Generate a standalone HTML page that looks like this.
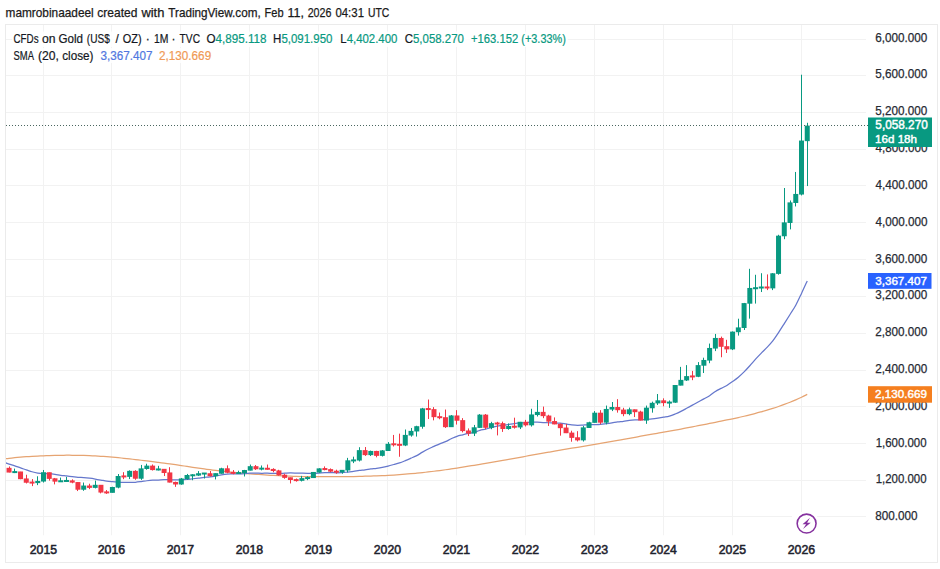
<!DOCTYPE html>
<html><head><meta charset="utf-8"><style>
html,body{margin:0;padding:0;background:#fff;width:940px;height:569px;overflow:hidden;position:relative}
svg{position:absolute;left:0;top:0;font-family:"Liberation Sans",sans-serif}
</style></head><body>
<svg width="940" height="569" viewBox="0 0 940 569">
<rect x="5.5" y="24.5" width="932" height="538" fill="none" stroke="#ebebeb" stroke-width="1"/>
<defs><clipPath id="cp"><rect x="6" y="25" width="860" height="510.5"/></clipPath></defs>
<g clip-path="url(#cp)">
<line x1="6" y1="39.5" x2="866" y2="39.5" stroke="#f2f2f2" stroke-width="1"/>
<line x1="6" y1="75.5" x2="866" y2="75.5" stroke="#f2f2f2" stroke-width="1"/>
<line x1="6" y1="112.5" x2="866" y2="112.5" stroke="#f2f2f2" stroke-width="1"/>
<line x1="6" y1="149.5" x2="866" y2="149.5" stroke="#f2f2f2" stroke-width="1"/>
<line x1="6" y1="185.5" x2="866" y2="185.5" stroke="#f2f2f2" stroke-width="1"/>
<line x1="6" y1="222.5" x2="866" y2="222.5" stroke="#f2f2f2" stroke-width="1"/>
<line x1="6" y1="259.5" x2="866" y2="259.5" stroke="#f2f2f2" stroke-width="1"/>
<line x1="6" y1="296.5" x2="866" y2="296.5" stroke="#f2f2f2" stroke-width="1"/>
<line x1="6" y1="333.5" x2="866" y2="333.5" stroke="#f2f2f2" stroke-width="1"/>
<line x1="6" y1="370.5" x2="866" y2="370.5" stroke="#f2f2f2" stroke-width="1"/>
<line x1="6" y1="406.5" x2="866" y2="406.5" stroke="#f2f2f2" stroke-width="1"/>
<line x1="6" y1="443.5" x2="866" y2="443.5" stroke="#f2f2f2" stroke-width="1"/>
<line x1="6" y1="480.5" x2="866" y2="480.5" stroke="#f2f2f2" stroke-width="1"/>
<line x1="6" y1="516.5" x2="866" y2="516.5" stroke="#f2f2f2" stroke-width="1"/>
<line x1="43.5" y1="24" x2="43.5" y2="535.5" stroke="#f2f2f2" stroke-width="1"/>
<line x1="111.5" y1="24" x2="111.5" y2="535.5" stroke="#f2f2f2" stroke-width="1"/>
<line x1="180.5" y1="24" x2="180.5" y2="535.5" stroke="#f2f2f2" stroke-width="1"/>
<line x1="249.5" y1="24" x2="249.5" y2="535.5" stroke="#f2f2f2" stroke-width="1"/>
<line x1="318.5" y1="24" x2="318.5" y2="535.5" stroke="#f2f2f2" stroke-width="1"/>
<line x1="387.5" y1="24" x2="387.5" y2="535.5" stroke="#f2f2f2" stroke-width="1"/>
<line x1="456.5" y1="24" x2="456.5" y2="535.5" stroke="#f2f2f2" stroke-width="1"/>
<line x1="525.5" y1="24" x2="525.5" y2="535.5" stroke="#f2f2f2" stroke-width="1"/>
<line x1="594.5" y1="24" x2="594.5" y2="535.5" stroke="#f2f2f2" stroke-width="1"/>
<line x1="663.5" y1="24" x2="663.5" y2="535.5" stroke="#f2f2f2" stroke-width="1"/>
<line x1="732.5" y1="24" x2="732.5" y2="535.5" stroke="#f2f2f2" stroke-width="1"/>
<line x1="801.5" y1="24" x2="801.5" y2="535.5" stroke="#f2f2f2" stroke-width="1"/>
<path d="M3.30 459.02 C4.26 458.90 7.14 458.54 9.05 458.33 C10.96 458.12 12.88 457.92 14.79 457.73 C16.70 457.54 18.62 457.37 20.53 457.20 C22.44 457.03 24.36 456.88 26.27 456.74 C28.18 456.60 30.11 456.48 32.02 456.36 C33.94 456.24 35.85 456.14 37.76 456.04 C39.67 455.94 41.59 455.86 43.50 455.78 C45.41 455.70 47.33 455.62 49.24 455.56 C51.15 455.50 53.06 455.44 54.98 455.39 C56.89 455.34 58.81 455.31 60.73 455.29 C62.64 455.27 64.56 455.25 66.47 455.24 C68.38 455.24 70.30 455.24 72.21 455.26 C74.12 455.28 76.03 455.30 77.95 455.34 C79.87 455.38 81.78 455.43 83.70 455.48 C85.62 455.53 87.53 455.59 89.44 455.66 C91.35 455.74 93.27 455.83 95.18 455.93 C97.09 456.03 99.00 456.14 100.92 456.27 C102.84 456.39 104.75 456.53 106.67 456.68 C108.59 456.83 110.50 457.00 112.41 457.17 C114.32 457.34 116.24 457.51 118.15 457.69 C120.06 457.87 121.98 458.07 123.89 458.27 C125.80 458.47 127.72 458.68 129.64 458.90 C131.55 459.12 133.47 459.33 135.38 459.56 C137.29 459.79 139.21 460.02 141.12 460.25 C143.03 460.48 144.95 460.71 146.86 460.95 C148.78 461.19 150.70 461.42 152.61 461.66 C154.53 461.90 156.44 462.14 158.35 462.39 C160.26 462.63 162.18 462.88 164.09 463.13 C166.00 463.38 167.92 463.65 169.83 463.92 C171.75 464.19 173.67 464.46 175.58 464.74 C177.50 465.02 179.41 465.30 181.32 465.58 C183.23 465.86 185.15 466.14 187.06 466.42 C188.97 466.70 190.89 466.98 192.80 467.26 C194.72 467.54 196.64 467.82 198.55 468.10 C200.47 468.38 202.38 468.65 204.29 468.92 C206.20 469.19 208.12 469.45 210.03 469.70 C211.94 469.95 213.86 470.20 215.77 470.44 C217.69 470.68 219.61 470.89 221.52 471.11 C223.44 471.33 225.35 471.53 227.26 471.73 C229.17 471.93 231.09 472.14 233.00 472.33 C234.91 472.52 236.83 472.70 238.74 472.88 C240.65 473.06 242.56 473.23 244.48 473.40 C246.39 473.56 248.31 473.72 250.23 473.87 C252.14 474.02 254.06 474.16 255.97 474.30 C257.88 474.44 259.80 474.57 261.71 474.70 C263.62 474.83 265.53 474.96 267.45 475.08 C269.37 475.20 271.28 475.31 273.20 475.42 C275.12 475.53 277.03 475.63 278.94 475.73 C280.85 475.83 282.77 475.91 284.68 475.99 C286.59 476.07 288.50 476.14 290.42 476.21 C292.34 476.28 294.25 476.33 296.17 476.39 C298.09 476.44 300.00 476.50 301.91 476.54 C303.82 476.58 305.74 476.62 307.65 476.65 C309.56 476.68 311.47 476.71 313.39 476.72 C315.31 476.74 317.22 476.74 319.14 476.74 C321.06 476.74 322.97 476.74 324.88 476.73 C326.79 476.73 328.71 476.72 330.62 476.71 C332.53 476.70 334.44 476.70 336.36 476.69 C338.28 476.68 340.19 476.68 342.11 476.66 C344.03 476.65 345.94 476.62 347.85 476.60 C349.76 476.58 351.68 476.55 353.59 476.51 C355.50 476.47 357.41 476.43 359.33 476.38 C361.25 476.33 363.16 476.28 365.08 476.23 C367.00 476.18 368.91 476.12 370.82 476.06 C372.73 476.00 374.65 475.93 376.56 475.86 C378.47 475.79 380.38 475.71 382.30 475.63 C384.22 475.55 386.13 475.45 388.05 475.35 C389.97 475.25 391.88 475.13 393.79 475.01 C395.70 474.89 397.62 474.77 399.53 474.64 C401.44 474.51 403.35 474.36 405.27 474.21 C407.19 474.06 409.10 473.89 411.02 473.72 C412.94 473.55 414.85 473.38 416.76 473.19 C418.67 473.00 420.59 472.80 422.50 472.59 C424.41 472.38 426.33 472.15 428.24 471.93 C430.15 471.71 432.06 471.49 433.98 471.25 C435.90 471.01 437.81 470.77 439.73 470.52 C441.65 470.27 443.56 470.01 445.47 469.75 C447.38 469.49 449.30 469.21 451.21 468.93 C453.12 468.65 455.03 468.36 456.95 468.06 C458.87 467.76 460.78 467.47 462.70 467.16 C464.62 466.86 466.53 466.54 468.44 466.23 C470.35 465.92 472.27 465.61 474.18 465.29 C476.09 464.97 478.00 464.64 479.92 464.32 C481.84 464.00 483.75 463.67 485.67 463.34 C487.59 463.01 489.50 462.67 491.41 462.34 C493.32 462.00 495.24 461.67 497.15 461.33 C499.06 460.99 500.97 460.65 502.89 460.31 C504.81 459.97 506.72 459.64 508.64 459.31 C510.56 458.98 512.47 458.64 514.38 458.30 C516.29 457.96 518.21 457.62 520.12 457.28 C522.03 456.94 523.95 456.59 525.86 456.25 C527.77 455.91 529.70 455.56 531.61 455.22 C533.52 454.88 535.44 454.54 537.35 454.20 C539.26 453.86 541.18 453.53 543.09 453.19 C545.00 452.85 546.92 452.51 548.83 452.18 C550.75 451.85 552.67 451.51 554.58 451.18 C556.50 450.85 558.41 450.50 560.32 450.17 C562.23 449.84 564.15 449.50 566.06 449.18 C567.97 448.86 569.88 448.54 571.80 448.22 C573.71 447.90 575.63 447.58 577.55 447.26 C579.46 446.94 581.38 446.62 583.29 446.30 C585.20 445.98 587.12 445.65 589.03 445.33 C590.94 445.01 592.86 444.68 594.77 444.36 C596.68 444.04 598.61 443.72 600.52 443.39 C602.43 443.06 604.35 442.73 606.26 442.40 C608.17 442.07 610.09 441.73 612.00 441.40 C613.91 441.06 615.83 440.73 617.74 440.39 C619.65 440.05 621.57 439.71 623.48 439.36 C625.39 439.01 627.32 438.67 629.23 438.32 C631.14 437.97 633.06 437.63 634.97 437.28 C636.88 436.93 638.80 436.58 640.71 436.24 C642.62 435.90 644.54 435.56 646.45 435.22 C648.37 434.88 650.29 434.54 652.20 434.20 C654.12 433.86 656.03 433.53 657.94 433.19 C659.85 432.85 661.77 432.51 663.68 432.17 C665.59 431.83 667.50 431.49 669.42 431.14 C671.33 430.79 673.25 430.45 675.17 430.10 C677.08 429.75 679.00 429.40 680.91 429.04 C682.82 428.68 684.74 428.32 686.65 427.95 C688.56 427.58 690.48 427.21 692.39 426.84 C694.30 426.47 696.23 426.10 698.14 425.72 C700.05 425.34 701.97 424.96 703.88 424.58 C705.79 424.20 707.71 423.83 709.62 423.45 C711.53 423.07 713.45 422.69 715.36 422.30 C717.27 421.92 719.20 421.53 721.11 421.14 C723.02 420.75 724.94 420.37 726.85 419.97 C728.76 419.58 730.68 419.17 732.59 418.77 C734.50 418.37 736.42 417.96 738.33 417.54 C740.25 417.12 742.17 416.69 744.08 416.25 C746.00 415.81 747.91 415.35 749.82 414.87 C751.73 414.39 753.65 413.90 755.56 413.39 C757.47 412.88 759.38 412.34 761.30 411.80 C763.21 411.26 765.13 410.71 767.05 410.14 C768.96 409.57 770.88 408.99 772.79 408.38 C774.70 407.77 776.62 407.14 778.53 406.48 C780.44 405.82 782.36 405.14 784.27 404.43 C786.18 403.72 788.11 402.98 790.02 402.21 C791.93 401.44 793.85 400.66 795.76 399.83 C797.67 399.00 799.59 398.13 801.50 397.22 C803.41 396.31 806.28 394.85 807.24 394.38" fill="none" stroke="#e6a472" stroke-width="1.25" stroke-linejoin="round" stroke-linecap="butt"/>
<path d="M3.30 462.06 C4.26 462.39 7.14 463.41 9.05 464.04 C10.96 464.67 12.88 465.18 14.79 465.83 C16.70 466.48 18.62 467.26 20.53 467.92 C22.44 468.58 24.36 469.15 26.27 469.79 C28.18 470.43 30.11 471.21 32.02 471.76 C33.94 472.31 35.85 472.77 37.76 473.08 C39.67 473.39 41.59 473.50 43.50 473.60 C45.41 473.70 47.33 473.58 49.24 473.70 C51.15 473.81 53.06 474.03 54.98 474.29 C56.89 474.55 58.81 475.00 60.73 475.27 C62.64 475.54 64.56 475.68 66.47 475.90 C68.38 476.12 70.30 476.36 72.21 476.59 C74.12 476.82 76.03 477.13 77.95 477.30 C79.87 477.47 81.78 477.47 83.70 477.62 C85.62 477.77 87.53 477.97 89.44 478.21 C91.35 478.45 93.27 478.74 95.18 479.05 C97.09 479.36 99.00 479.71 100.92 480.06 C102.84 480.41 104.75 480.86 106.67 481.14 C108.59 481.42 110.50 481.57 112.41 481.74 C114.32 481.91 116.24 482.03 118.15 482.13 C120.06 482.23 121.98 482.31 123.89 482.34 C125.80 482.37 127.72 482.32 129.64 482.31 C131.55 482.30 133.47 482.40 135.38 482.28 C137.29 482.16 139.21 481.86 141.12 481.60 C143.03 481.35 144.95 480.99 146.86 480.75 C148.78 480.51 150.70 480.30 152.61 480.18 C154.53 480.06 156.44 480.09 158.35 480.01 C160.26 479.93 162.18 479.76 164.09 479.72 C166.00 479.68 167.92 479.73 169.83 479.76 C171.75 479.79 173.67 479.90 175.58 479.91 C177.50 479.92 179.41 479.88 181.32 479.81 C183.23 479.74 185.15 479.64 187.06 479.46 C188.97 479.28 190.89 478.97 192.80 478.75 C194.72 478.53 196.64 478.36 198.55 478.14 C200.47 477.92 202.38 477.63 204.29 477.44 C206.20 477.25 208.12 477.21 210.03 476.98 C211.94 476.75 213.86 476.40 215.77 476.04 C217.69 475.68 219.61 475.16 221.52 474.84 C223.44 474.52 225.35 474.25 227.26 474.10 C229.17 473.95 231.09 474.01 233.00 473.95 C234.91 473.89 236.83 473.80 238.74 473.76 C240.65 473.72 242.56 473.83 244.48 473.72 C246.39 473.62 248.31 473.23 250.23 473.13 C252.14 473.03 254.06 473.12 255.97 473.14 C257.88 473.16 259.80 473.25 261.71 473.26 C263.62 473.27 265.53 473.22 267.45 473.23 C269.37 473.24 271.28 473.28 273.20 473.31 C275.12 473.34 277.03 473.44 278.94 473.42 C280.85 473.40 282.77 473.27 284.68 473.19 C286.59 473.11 288.50 472.98 290.42 472.96 C292.34 472.94 294.25 473.01 296.17 473.05 C298.09 473.09 300.00 473.16 301.91 473.21 C303.82 473.26 305.74 473.32 307.65 473.33 C309.56 473.34 311.47 473.32 313.39 473.27 C315.31 473.22 317.22 473.12 319.14 473.02 C321.06 472.92 322.97 472.77 324.88 472.70 C326.79 472.63 328.71 472.58 330.62 472.59 C332.53 472.60 334.44 472.76 336.36 472.77 C338.28 472.78 340.19 472.77 342.11 472.65 C344.03 472.52 345.94 472.23 347.85 472.02 C349.76 471.81 351.68 471.66 353.59 471.39 C355.50 471.12 357.41 470.65 359.33 470.39 C361.25 470.13 363.16 470.06 365.08 469.81 C367.00 469.56 368.91 469.17 370.82 468.92 C372.73 468.67 374.65 468.55 376.56 468.29 C378.47 468.03 380.38 467.74 382.30 467.36 C384.22 466.98 386.13 466.51 388.05 466.03 C389.97 465.55 391.88 465.02 393.79 464.50 C395.70 463.98 397.62 463.52 399.53 462.88 C401.44 462.24 403.35 461.44 405.27 460.66 C407.19 459.88 409.10 459.03 411.02 458.19 C412.94 457.35 414.85 456.61 416.76 455.60 C418.67 454.59 420.59 453.24 422.50 452.14 C424.41 451.04 426.33 449.95 428.24 449.00 C430.15 448.05 432.06 447.28 433.98 446.41 C435.90 445.55 437.81 444.61 439.73 443.81 C441.65 443.01 443.56 442.43 445.47 441.59 C447.38 440.75 449.30 439.65 451.21 438.77 C453.12 437.89 455.03 436.95 456.95 436.29 C458.87 435.63 460.78 435.27 462.70 434.80 C464.62 434.33 466.53 433.87 468.44 433.45 C470.35 433.03 472.27 432.83 474.18 432.31 C476.09 431.79 478.00 430.84 479.92 430.31 C481.84 429.78 483.75 429.59 485.67 429.12 C487.59 428.65 489.50 428.01 491.41 427.52 C493.32 427.03 495.24 426.52 497.15 426.16 C499.06 425.81 500.97 425.67 502.89 425.39 C504.81 425.11 506.72 424.78 508.64 424.48 C510.56 424.18 512.47 423.84 514.38 423.58 C516.29 423.32 518.21 423.08 520.12 422.92 C522.03 422.76 523.95 422.77 525.86 422.62 C527.77 422.47 529.70 422.10 531.61 422.03 C533.52 421.96 535.44 422.12 537.35 422.20 C539.26 422.28 541.18 422.44 543.09 422.53 C545.00 422.62 546.92 422.66 548.83 422.75 C550.75 422.84 552.67 423.02 554.58 423.08 C556.50 423.14 558.41 422.98 560.32 423.13 C562.23 423.28 564.15 423.70 566.06 423.99 C567.97 424.28 569.88 424.63 571.80 424.85 C573.71 425.07 575.63 425.28 577.55 425.31 C579.46 425.34 581.38 425.12 583.29 425.03 C585.20 424.94 587.12 424.84 589.03 424.78 C590.94 424.72 592.86 424.74 594.77 424.68 C596.68 424.62 598.61 424.58 600.52 424.42 C602.43 424.26 604.35 423.96 606.26 423.71 C608.17 423.46 610.09 423.19 612.00 422.90 C613.91 422.61 615.83 422.22 617.74 421.96 C619.65 421.70 621.57 421.59 623.48 421.34 C625.39 421.09 627.32 420.69 629.23 420.46 C631.14 420.23 633.06 420.07 634.97 419.95 C636.88 419.82 638.80 419.81 640.71 419.71 C642.62 419.61 644.54 419.50 646.45 419.37 C648.37 419.24 650.29 419.12 652.20 418.92 C654.12 418.72 656.03 418.44 657.94 418.16 C659.85 417.88 661.77 417.57 663.68 417.23 C665.59 416.89 667.50 416.69 669.42 416.15 C671.33 415.61 673.25 414.81 675.17 414.02 C677.08 413.22 679.00 412.33 680.91 411.38 C682.82 410.43 684.74 409.36 686.65 408.32 C688.56 407.28 690.48 406.19 692.39 405.14 C694.30 404.09 696.23 403.07 698.14 402.03 C700.05 400.99 701.97 399.98 703.88 398.92 C705.79 397.86 707.71 396.92 709.62 395.68 C711.53 394.44 713.45 392.70 715.36 391.47 C717.27 390.25 719.20 389.34 721.11 388.33 C723.02 387.32 724.94 386.56 726.85 385.42 C728.76 384.29 730.68 382.89 732.59 381.52 C734.50 380.15 736.42 378.82 738.33 377.22 C740.25 375.62 742.17 373.83 744.08 371.91 C746.00 369.99 747.91 367.85 749.82 365.72 C751.73 363.59 753.65 361.23 755.56 359.12 C757.47 357.01 759.38 355.04 761.30 353.07 C763.21 351.10 765.13 349.34 767.05 347.32 C768.96 345.30 770.88 343.41 772.79 340.96 C774.70 338.51 776.62 335.51 778.53 332.62 C780.44 329.73 782.36 326.66 784.27 323.64 C786.18 320.62 788.11 317.58 790.02 314.51 C791.93 311.44 793.85 308.72 795.76 305.21 C797.67 301.70 799.59 297.48 801.50 293.43 C803.41 289.38 806.28 282.99 807.24 280.90" fill="none" stroke="#6577cc" stroke-width="1.25" stroke-linejoin="round" stroke-linecap="butt"/>
<rect x="9.00" y="466.48" width="1" height="5.87" fill="#f23645"/>
<rect x="6.55" y="467.83" width="5.0" height="4.73" fill="#f23645"/>
<rect x="14.00" y="468.59" width="1" height="4.49" fill="#089981"/>
<rect x="12.29" y="471.08" width="5.0" height="2.00" fill="#089981"/>
<rect x="20.00" y="471.80" width="1" height="7.43" fill="#f23645"/>
<rect x="18.03" y="471.50" width="5.0" height="7.66" fill="#f23645"/>
<rect x="26.00" y="474.74" width="1" height="8.71" fill="#f23645"/>
<rect x="23.77" y="478.47" width="5.0" height="4.27" fill="#f23645"/>
<rect x="32.00" y="479.05" width="1" height="7.06" fill="#f23645"/>
<rect x="29.52" y="481.58" width="5.0" height="2.00" fill="#f23645"/>
<rect x="37.00" y="476.29" width="1" height="8.81" fill="#089981"/>
<rect x="35.26" y="480.95" width="5.0" height="2.16" fill="#089981"/>
<rect x="43.00" y="469.97" width="1" height="12.57" fill="#089981"/>
<rect x="41.00" y="472.23" width="5.0" height="9.31" fill="#089981"/>
<rect x="49.00" y="472.53" width="1" height="8.07" fill="#f23645"/>
<rect x="46.74" y="472.23" width="5.0" height="6.65" fill="#f23645"/>
<rect x="54.00" y="477.95" width="1" height="6.42" fill="#f23645"/>
<rect x="52.48" y="478.29" width="5.0" height="3.35" fill="#f23645"/>
<rect x="60.00" y="477.58" width="1" height="4.22" fill="#089981"/>
<rect x="58.23" y="480.29" width="5.0" height="2.00" fill="#089981"/>
<rect x="66.00" y="476.84" width="1" height="4.77" fill="#089981"/>
<rect x="63.97" y="479.97" width="5.0" height="2.00" fill="#089981"/>
<rect x="72.00" y="479.32" width="1" height="3.94" fill="#f23645"/>
<rect x="69.71" y="480.40" width="5.0" height="2.25" fill="#f23645"/>
<rect x="77.00" y="482.16" width="1" height="8.90" fill="#f23645"/>
<rect x="75.45" y="482.05" width="5.0" height="7.66" fill="#f23645"/>
<rect x="83.00" y="482.53" width="1" height="8.26" fill="#089981"/>
<rect x="81.20" y="485.53" width="5.0" height="4.18" fill="#089981"/>
<rect x="89.00" y="483.72" width="1" height="5.41" fill="#f23645"/>
<rect x="86.94" y="485.53" width="5.0" height="2.34" fill="#f23645"/>
<rect x="95.00" y="480.61" width="1" height="7.80" fill="#089981"/>
<rect x="92.68" y="484.80" width="5.0" height="3.08" fill="#089981"/>
<rect x="100.00" y="485.10" width="1" height="8.26" fill="#f23645"/>
<rect x="98.42" y="484.80" width="5.0" height="7.75" fill="#f23645"/>
<rect x="106.00" y="490.05" width="1" height="3.85" fill="#f23645"/>
<rect x="104.17" y="491.39" width="5.0" height="2.00" fill="#f23645"/>
<rect x="112.00" y="486.75" width="1" height="5.78" fill="#089981"/>
<rect x="109.91" y="487.00" width="5.0" height="5.83" fill="#089981"/>
<rect x="118.00" y="474.00" width="1" height="14.31" fill="#089981"/>
<rect x="115.65" y="475.99" width="5.0" height="11.61" fill="#089981"/>
<rect x="123.00" y="472.17" width="1" height="6.97" fill="#f23645"/>
<rect x="121.39" y="475.43" width="5.0" height="2.00" fill="#f23645"/>
<rect x="129.00" y="470.33" width="1" height="8.71" fill="#089981"/>
<rect x="127.14" y="470.86" width="5.0" height="6.01" fill="#089981"/>
<rect x="135.00" y="470.24" width="1" height="9.54" fill="#f23645"/>
<rect x="132.88" y="470.86" width="5.0" height="7.85" fill="#f23645"/>
<rect x="141.00" y="464.92" width="1" height="14.95" fill="#089981"/>
<rect x="138.62" y="468.38" width="5.0" height="10.32" fill="#089981"/>
<rect x="146.00" y="463.73" width="1" height="5.96" fill="#089981"/>
<rect x="144.36" y="465.63" width="5.0" height="3.35" fill="#089981"/>
<rect x="152.00" y="464.46" width="1" height="6.05" fill="#f23645"/>
<rect x="150.11" y="465.63" width="5.0" height="4.45" fill="#f23645"/>
<rect x="158.00" y="465.84" width="1" height="4.59" fill="#089981"/>
<rect x="155.85" y="468.46" width="5.0" height="2.00" fill="#089981"/>
<rect x="164.00" y="469.05" width="1" height="6.97" fill="#f23645"/>
<rect x="161.59" y="468.84" width="5.0" height="4.18" fill="#f23645"/>
<rect x="169.00" y="467.21" width="1" height="15.23" fill="#f23645"/>
<rect x="167.33" y="472.42" width="5.0" height="10.14" fill="#f23645"/>
<rect x="175.00" y="481.61" width="1" height="5.23" fill="#f23645"/>
<rect x="173.08" y="481.96" width="5.0" height="2.53" fill="#f23645"/>
<rect x="181.00" y="477.95" width="1" height="6.79" fill="#089981"/>
<rect x="178.82" y="478.47" width="5.0" height="6.01" fill="#089981"/>
<rect x="187.00" y="473.91" width="1" height="5.87" fill="#089981"/>
<rect x="184.56" y="474.99" width="5.0" height="4.09" fill="#089981"/>
<rect x="192.00" y="474.18" width="1" height="6.05" fill="#089981"/>
<rect x="190.30" y="474.29" width="5.0" height="2.00" fill="#089981"/>
<rect x="198.00" y="471.07" width="1" height="4.95" fill="#089981"/>
<rect x="196.05" y="473.24" width="5.0" height="2.34" fill="#089981"/>
<rect x="204.00" y="473.36" width="1" height="5.14" fill="#089981"/>
<rect x="201.79" y="472.54" width="5.0" height="2.00" fill="#089981"/>
<rect x="210.00" y="470.97" width="1" height="5.50" fill="#f23645"/>
<rect x="207.53" y="473.24" width="5.0" height="2.98" fill="#f23645"/>
<rect x="215.00" y="473.36" width="1" height="6.05" fill="#089981"/>
<rect x="213.27" y="473.15" width="5.0" height="3.08" fill="#089981"/>
<rect x="221.00" y="467.76" width="1" height="5.96" fill="#089981"/>
<rect x="219.02" y="468.29" width="5.0" height="5.46" fill="#089981"/>
<rect x="227.00" y="465.38" width="1" height="7.89" fill="#f23645"/>
<rect x="224.76" y="468.29" width="5.0" height="4.45" fill="#f23645"/>
<rect x="233.00" y="470.06" width="1" height="4.22" fill="#f23645"/>
<rect x="230.50" y="471.85" width="5.0" height="2.00" fill="#f23645"/>
<rect x="238.00" y="470.70" width="1" height="3.12" fill="#089981"/>
<rect x="236.24" y="472.08" width="5.0" height="2.00" fill="#089981"/>
<rect x="244.00" y="469.87" width="1" height="6.60" fill="#089981"/>
<rect x="241.98" y="470.03" width="5.0" height="3.17" fill="#089981"/>
<rect x="250.00" y="464.55" width="1" height="5.87" fill="#089981"/>
<rect x="247.73" y="466.18" width="5.0" height="4.45" fill="#089981"/>
<rect x="255.00" y="465.01" width="1" height="4.95" fill="#f23645"/>
<rect x="253.47" y="466.18" width="5.0" height="3.08" fill="#f23645"/>
<rect x="261.00" y="465.47" width="1" height="4.86" fill="#089981"/>
<rect x="259.21" y="467.64" width="5.0" height="2.00" fill="#089981"/>
<rect x="267.00" y="464.55" width="1" height="5.14" fill="#f23645"/>
<rect x="264.95" y="467.77" width="5.0" height="2.00" fill="#f23645"/>
<rect x="273.00" y="468.22" width="1" height="4.04" fill="#f23645"/>
<rect x="270.70" y="468.93" width="5.0" height="2.07" fill="#f23645"/>
<rect x="278.00" y="469.78" width="1" height="5.87" fill="#f23645"/>
<rect x="276.44" y="470.40" width="5.0" height="4.91" fill="#f23645"/>
<rect x="284.00" y="473.73" width="1" height="5.04" fill="#f23645"/>
<rect x="282.18" y="474.71" width="5.0" height="3.17" fill="#f23645"/>
<rect x="290.00" y="477.58" width="1" height="5.87" fill="#f23645"/>
<rect x="287.92" y="477.28" width="5.0" height="2.71" fill="#f23645"/>
<rect x="296.00" y="478.50" width="1" height="3.12" fill="#f23645"/>
<rect x="293.67" y="479.10" width="5.0" height="2.00" fill="#f23645"/>
<rect x="301.00" y="475.84" width="1" height="5.60" fill="#089981"/>
<rect x="299.41" y="478.10" width="5.0" height="2.71" fill="#089981"/>
<rect x="307.00" y="476.39" width="1" height="3.76" fill="#089981"/>
<rect x="305.15" y="477.08" width="5.0" height="2.00" fill="#089981"/>
<rect x="313.00" y="471.98" width="1" height="5.87" fill="#089981"/>
<rect x="310.89" y="471.96" width="5.0" height="6.10" fill="#089981"/>
<rect x="319.00" y="468.22" width="1" height="4.59" fill="#089981"/>
<rect x="316.64" y="468.38" width="5.0" height="4.18" fill="#089981"/>
<rect x="324.00" y="466.39" width="1" height="3.94" fill="#f23645"/>
<rect x="322.38" y="468.05" width="5.0" height="2.00" fill="#f23645"/>
<rect x="330.00" y="468.41" width="1" height="3.94" fill="#f23645"/>
<rect x="328.12" y="469.12" width="5.0" height="2.53" fill="#f23645"/>
<rect x="336.00" y="469.69" width="1" height="4.04" fill="#f23645"/>
<rect x="333.86" y="470.71" width="5.0" height="2.00" fill="#f23645"/>
<rect x="342.00" y="470.06" width="1" height="3.67" fill="#089981"/>
<rect x="339.61" y="469.85" width="5.0" height="2.53" fill="#089981"/>
<rect x="347.00" y="457.86" width="1" height="14.49" fill="#089981"/>
<rect x="345.35" y="460.31" width="5.0" height="10.14" fill="#089981"/>
<rect x="353.00" y="456.67" width="1" height="6.42" fill="#089981"/>
<rect x="351.09" y="459.43" width="5.0" height="2.00" fill="#089981"/>
<rect x="359.00" y="447.22" width="1" height="14.22" fill="#089981"/>
<rect x="356.83" y="450.13" width="5.0" height="10.41" fill="#089981"/>
<rect x="365.00" y="447.03" width="1" height="8.90" fill="#f23645"/>
<rect x="362.58" y="450.13" width="5.0" height="5.00" fill="#f23645"/>
<rect x="370.00" y="450.61" width="1" height="5.41" fill="#089981"/>
<rect x="368.32" y="450.95" width="5.0" height="4.18" fill="#089981"/>
<rect x="376.00" y="450.79" width="1" height="6.51" fill="#f23645"/>
<rect x="374.06" y="450.95" width="5.0" height="4.91" fill="#f23645"/>
<rect x="382.00" y="450.06" width="1" height="6.42" fill="#089981"/>
<rect x="379.80" y="450.40" width="5.0" height="5.46" fill="#089981"/>
<rect x="388.00" y="442.08" width="1" height="8.62" fill="#089981"/>
<rect x="385.55" y="443.80" width="5.0" height="7.20" fill="#089981"/>
<rect x="393.00" y="434.93" width="1" height="11.56" fill="#f23645"/>
<rect x="391.29" y="443.28" width="5.0" height="2.00" fill="#f23645"/>
<rect x="399.00" y="433.64" width="1" height="23.11" fill="#f23645"/>
<rect x="397.03" y="443.83" width="5.0" height="2.00" fill="#f23645"/>
<rect x="405.00" y="429.51" width="1" height="16.60" fill="#089981"/>
<rect x="402.77" y="434.90" width="5.0" height="10.60" fill="#089981"/>
<rect x="411.00" y="427.96" width="1" height="8.71" fill="#089981"/>
<rect x="408.52" y="430.87" width="5.0" height="4.64" fill="#089981"/>
<rect x="416.00" y="425.75" width="1" height="10.82" fill="#089981"/>
<rect x="414.26" y="426.19" width="5.0" height="5.28" fill="#089981"/>
<rect x="422.00" y="407.87" width="1" height="20.82" fill="#089981"/>
<rect x="420.00" y="408.39" width="5.0" height="18.39" fill="#089981"/>
<rect x="428.00" y="399.52" width="1" height="19.45" fill="#f23645"/>
<rect x="425.74" y="408.06" width="5.0" height="2.00" fill="#f23645"/>
<rect x="433.00" y="407.13" width="1" height="13.21" fill="#f23645"/>
<rect x="431.48" y="409.13" width="5.0" height="8.03" fill="#f23645"/>
<rect x="439.00" y="412.55" width="1" height="6.70" fill="#f23645"/>
<rect x="437.23" y="416.18" width="5.0" height="2.00" fill="#f23645"/>
<rect x="445.00" y="409.52" width="1" height="18.44" fill="#f23645"/>
<rect x="442.97" y="417.20" width="5.0" height="9.96" fill="#f23645"/>
<rect x="451.00" y="415.02" width="1" height="11.92" fill="#089981"/>
<rect x="448.71" y="415.46" width="5.0" height="11.70" fill="#089981"/>
<rect x="456.00" y="410.16" width="1" height="14.40" fill="#f23645"/>
<rect x="454.45" y="415.46" width="5.0" height="5.28" fill="#f23645"/>
<rect x="462.00" y="418.14" width="1" height="14.22" fill="#f23645"/>
<rect x="460.20" y="420.13" width="5.0" height="10.96" fill="#f23645"/>
<rect x="468.00" y="428.41" width="1" height="7.61" fill="#f23645"/>
<rect x="465.94" y="430.50" width="5.0" height="3.08" fill="#f23645"/>
<rect x="474.00" y="424.93" width="1" height="11.10" fill="#089981"/>
<rect x="471.68" y="427.29" width="5.0" height="6.29" fill="#089981"/>
<rect x="479.00" y="414.10" width="1" height="13.76" fill="#089981"/>
<rect x="477.42" y="414.63" width="5.0" height="13.26" fill="#089981"/>
<rect x="485.00" y="414.01" width="1" height="15.23" fill="#f23645"/>
<rect x="483.17" y="414.63" width="5.0" height="13.17" fill="#f23645"/>
<rect x="491.00" y="421.81" width="1" height="7.43" fill="#089981"/>
<rect x="488.91" y="423.16" width="5.0" height="4.64" fill="#089981"/>
<rect x="497.00" y="421.81" width="1" height="13.58" fill="#f23645"/>
<rect x="494.65" y="422.51" width="5.0" height="2.00" fill="#f23645"/>
<rect x="502.00" y="421.63" width="1" height="10.27" fill="#f23645"/>
<rect x="500.39" y="423.16" width="5.0" height="5.83" fill="#f23645"/>
<rect x="508.00" y="423.46" width="1" height="6.24" fill="#089981"/>
<rect x="506.14" y="426.00" width="5.0" height="2.98" fill="#089981"/>
<rect x="514.00" y="417.68" width="1" height="10.92" fill="#f23645"/>
<rect x="511.88" y="425.72" width="5.0" height="2.00" fill="#f23645"/>
<rect x="520.00" y="421.90" width="1" height="7.15" fill="#089981"/>
<rect x="517.62" y="421.78" width="5.0" height="5.64" fill="#089981"/>
<rect x="525.00" y="419.88" width="1" height="6.60" fill="#f23645"/>
<rect x="523.36" y="421.78" width="5.0" height="3.54" fill="#f23645"/>
<rect x="531.00" y="408.78" width="1" height="17.79" fill="#089981"/>
<rect x="529.11" y="414.45" width="5.0" height="10.87" fill="#089981"/>
<rect x="537.00" y="399.98" width="1" height="16.51" fill="#089981"/>
<rect x="534.85" y="411.88" width="5.0" height="3.17" fill="#089981"/>
<rect x="543.00" y="406.58" width="1" height="11.56" fill="#f23645"/>
<rect x="540.59" y="411.88" width="5.0" height="4.27" fill="#f23645"/>
<rect x="548.00" y="414.75" width="1" height="11.19" fill="#f23645"/>
<rect x="546.33" y="415.55" width="5.0" height="6.10" fill="#f23645"/>
<rect x="554.00" y="417.41" width="1" height="6.88" fill="#f23645"/>
<rect x="552.08" y="421.05" width="5.0" height="3.35" fill="#f23645"/>
<rect x="560.00" y="423.46" width="1" height="12.20" fill="#f23645"/>
<rect x="557.82" y="423.80" width="5.0" height="4.36" fill="#f23645"/>
<rect x="566.00" y="424.01" width="1" height="9.08" fill="#f23645"/>
<rect x="563.56" y="427.56" width="5.0" height="5.64" fill="#f23645"/>
<rect x="571.00" y="430.71" width="1" height="11.01" fill="#f23645"/>
<rect x="569.30" y="432.61" width="5.0" height="5.28" fill="#f23645"/>
<rect x="577.00" y="431.17" width="1" height="10.27" fill="#f23645"/>
<rect x="575.05" y="437.29" width="5.0" height="3.08" fill="#f23645"/>
<rect x="583.00" y="425.94" width="1" height="15.59" fill="#089981"/>
<rect x="580.79" y="427.38" width="5.0" height="12.98" fill="#089981"/>
<rect x="589.00" y="421.72" width="1" height="6.24" fill="#089981"/>
<rect x="586.53" y="422.24" width="5.0" height="5.74" fill="#089981"/>
<rect x="594.00" y="411.08" width="1" height="11.56" fill="#089981"/>
<rect x="592.27" y="412.70" width="5.0" height="10.14" fill="#089981"/>
<rect x="600.00" y="410.16" width="1" height="14.13" fill="#f23645"/>
<rect x="598.02" y="412.70" width="5.0" height="9.96" fill="#f23645"/>
<rect x="606.00" y="405.57" width="1" height="18.80" fill="#089981"/>
<rect x="603.76" y="408.94" width="5.0" height="13.72" fill="#089981"/>
<rect x="612.00" y="402.00" width="1" height="9.08" fill="#089981"/>
<rect x="609.50" y="407.02" width="5.0" height="2.53" fill="#089981"/>
<rect x="617.00" y="399.15" width="1" height="13.48" fill="#f23645"/>
<rect x="615.24" y="407.02" width="5.0" height="3.17" fill="#f23645"/>
<rect x="623.00" y="407.78" width="1" height="8.44" fill="#f23645"/>
<rect x="620.98" y="409.59" width="5.0" height="4.54" fill="#f23645"/>
<rect x="629.00" y="407.59" width="1" height="7.70" fill="#089981"/>
<rect x="626.73" y="409.31" width="5.0" height="4.82" fill="#089981"/>
<rect x="634.00" y="409.52" width="1" height="7.52" fill="#f23645"/>
<rect x="632.47" y="409.31" width="5.0" height="2.89" fill="#f23645"/>
<rect x="640.00" y="410.71" width="1" height="9.72" fill="#f23645"/>
<rect x="638.21" y="411.60" width="5.0" height="8.95" fill="#f23645"/>
<rect x="646.00" y="405.57" width="1" height="18.25" fill="#089981"/>
<rect x="643.95" y="407.66" width="5.0" height="12.89" fill="#089981"/>
<rect x="652.00" y="401.63" width="1" height="11.01" fill="#089981"/>
<rect x="649.70" y="402.80" width="5.0" height="5.46" fill="#089981"/>
<rect x="657.00" y="394.02" width="1" height="10.92" fill="#089981"/>
<rect x="655.44" y="400.32" width="5.0" height="3.08" fill="#089981"/>
<rect x="663.00" y="398.33" width="1" height="7.98" fill="#f23645"/>
<rect x="661.18" y="400.32" width="5.0" height="2.80" fill="#f23645"/>
<rect x="669.00" y="400.44" width="1" height="7.43" fill="#089981"/>
<rect x="666.92" y="401.59" width="5.0" height="2.00" fill="#089981"/>
<rect x="675.00" y="385.03" width="1" height="17.79" fill="#089981"/>
<rect x="672.67" y="385.00" width="5.0" height="17.66" fill="#089981"/>
<rect x="680.00" y="366.87" width="1" height="18.53" fill="#089981"/>
<rect x="678.41" y="379.87" width="5.0" height="5.74" fill="#089981"/>
<rect x="686.00" y="365.12" width="1" height="15.87" fill="#089981"/>
<rect x="684.15" y="376.11" width="5.0" height="4.36" fill="#089981"/>
<rect x="692.00" y="370.90" width="1" height="9.26" fill="#f23645"/>
<rect x="689.89" y="375.45" width="5.0" height="2.00" fill="#f23645"/>
<rect x="698.00" y="362.10" width="1" height="15.04" fill="#089981"/>
<rect x="695.64" y="365.10" width="5.0" height="11.70" fill="#089981"/>
<rect x="703.00" y="357.69" width="1" height="15.32" fill="#089981"/>
<rect x="701.38" y="359.96" width="5.0" height="5.74" fill="#089981"/>
<rect x="709.00" y="343.57" width="1" height="19.63" fill="#089981"/>
<rect x="707.12" y="347.95" width="5.0" height="12.62" fill="#089981"/>
<rect x="715.00" y="333.94" width="1" height="17.15" fill="#089981"/>
<rect x="712.86" y="337.95" width="5.0" height="10.60" fill="#089981"/>
<rect x="721.00" y="336.60" width="1" height="20.64" fill="#f23645"/>
<rect x="718.61" y="337.95" width="5.0" height="8.86" fill="#f23645"/>
<rect x="726.00" y="339.81" width="1" height="13.12" fill="#f23645"/>
<rect x="724.35" y="346.20" width="5.0" height="3.17" fill="#f23645"/>
<rect x="732.00" y="331.46" width="1" height="18.62" fill="#089981"/>
<rect x="730.09" y="331.62" width="5.0" height="17.75" fill="#089981"/>
<rect x="738.00" y="318.71" width="1" height="16.88" fill="#089981"/>
<rect x="735.83" y="327.40" width="5.0" height="4.82" fill="#089981"/>
<rect x="744.00" y="302.93" width="1" height="27.06" fill="#089981"/>
<rect x="741.58" y="303.09" width="5.0" height="24.91" fill="#089981"/>
<rect x="749.00" y="268.81" width="1" height="49.81" fill="#089981"/>
<rect x="747.32" y="287.96" width="5.0" height="15.73" fill="#089981"/>
<rect x="755.00" y="274.77" width="1" height="28.80" fill="#089981"/>
<rect x="753.06" y="287.21" width="5.0" height="2.00" fill="#089981"/>
<rect x="761.00" y="273.22" width="1" height="18.80" fill="#089981"/>
<rect x="758.80" y="286.52" width="5.0" height="2.00" fill="#089981"/>
<rect x="767.00" y="274.41" width="1" height="15.68" fill="#f23645"/>
<rect x="764.55" y="286.48" width="5.0" height="2.00" fill="#f23645"/>
<rect x="772.00" y="273.12" width="1" height="16.97" fill="#089981"/>
<rect x="770.29" y="273.28" width="5.0" height="15.09" fill="#089981"/>
<rect x="778.00" y="234.78" width="1" height="39.90" fill="#089981"/>
<rect x="776.03" y="235.67" width="5.0" height="38.21" fill="#089981"/>
<rect x="784.00" y="188.00" width="1" height="51.18" fill="#089981"/>
<rect x="781.77" y="222.37" width="5.0" height="13.90" fill="#089981"/>
<rect x="790.00" y="200.48" width="1" height="28.89" fill="#089981"/>
<rect x="787.52" y="202.38" width="5.0" height="20.60" fill="#089981"/>
<rect x="795.00" y="171.95" width="1" height="34.49" fill="#089981"/>
<rect x="793.26" y="193.94" width="5.0" height="9.04" fill="#089981"/>
<rect x="801.00" y="74.72" width="1" height="120.71" fill="#089981"/>
<rect x="799.00" y="140.55" width="5.0" height="53.99" fill="#089981"/>
<rect x="807.00" y="122.79" width="1" height="63.25" fill="#089981"/>
<rect x="804.74" y="125.58" width="5.0" height="15.57" fill="#089981"/>
</g>

<line x1="6" y1="125.5" x2="868" y2="125.5" stroke="#4a6660" stroke-width="1" stroke-dasharray="1 2"/>
<rect x="12" y="31.5" width="556" height="15.5" fill="#fff" fill-opacity="0.8"/>
<rect x="12" y="48" width="201" height="15" fill="#fff" fill-opacity="0.8"/>
<rect x="792" y="512" width="25" height="23.5" fill="#fff"/><circle cx="806.6" cy="523.6" r="9.45" fill="#fff" stroke="#86329f" stroke-width="1.55"/>
<path d="M810.0 517.8 L802.5 524.3 L806.1 524.3 L803.0 529.1 L810.7 522.7 L807.1 522.7 Z" fill="#86329f"/>
<text x="5.57" y="16.60" font-size="12.29" font-weight="normal" textLength="88.12" lengthAdjust="spacingAndGlyphs" ><tspan fill="#1a1a1a" stroke="#1a1a1a" stroke-width="0.25">mamrobinaadeel</tspan></text>
<text x="97.32" y="16.60" font-size="12.29" font-weight="normal" textLength="40.06" lengthAdjust="spacingAndGlyphs" ><tspan fill="#1a1a1a" stroke="#1a1a1a" stroke-width="0.25">created</tspan></text>
<text x="141.40" y="16.60" font-size="12.29" font-weight="normal" textLength="22.98" lengthAdjust="spacingAndGlyphs" ><tspan fill="#1a1a1a" stroke="#1a1a1a" stroke-width="0.25">with</tspan></text>
<text x="168.27" y="16.60" font-size="12.29" font-weight="normal" textLength="92.41" lengthAdjust="spacingAndGlyphs" ><tspan fill="#1a1a1a" stroke="#1a1a1a" stroke-width="0.25">TradingView.com,</tspan></text>
<text x="264.52" y="16.60" font-size="12.29" font-weight="normal" textLength="19.05" lengthAdjust="spacingAndGlyphs" ><tspan fill="#1a1a1a" stroke="#1a1a1a" stroke-width="0.25">Feb</tspan></text>
<text x="287.50" y="16.60" font-size="12.29" font-weight="normal" textLength="16.48" lengthAdjust="spacingAndGlyphs" ><tspan fill="#1a1a1a" stroke="#1a1a1a" stroke-width="0.25">11,</tspan></text>
<text x="307.66" y="16.60" font-size="12.29" font-weight="normal" textLength="23.81" lengthAdjust="spacingAndGlyphs" ><tspan fill="#1a1a1a" stroke="#1a1a1a" stroke-width="0.25">2026</tspan></text>
<text x="335.44" y="16.60" font-size="12.29" font-weight="normal" textLength="28.54" lengthAdjust="spacingAndGlyphs" ><tspan fill="#1a1a1a" stroke="#1a1a1a" stroke-width="0.25">04:31</tspan></text>
<text x="367.97" y="16.60" font-size="12.29" font-weight="normal" textLength="21.30" lengthAdjust="spacingAndGlyphs" ><tspan fill="#1a1a1a" stroke="#1a1a1a" stroke-width="0.25">UTC</tspan></text>
<text x="13.51" y="42.60" font-size="12.00" font-weight="normal" textLength="25.03" lengthAdjust="spacingAndGlyphs" ><tspan fill="#131722" stroke="#131722" stroke-width="0.2">CFDs</tspan></text>
<text x="41.91" y="42.60" font-size="12.00" font-weight="normal" textLength="13.54" lengthAdjust="spacingAndGlyphs" ><tspan fill="#131722" stroke="#131722" stroke-width="0.2">on</tspan></text>
<text x="58.52" y="42.60" font-size="12.00" font-weight="normal" textLength="24.50" lengthAdjust="spacingAndGlyphs" ><tspan fill="#131722" stroke="#131722" stroke-width="0.2">Gold</tspan></text>
<text x="86.79" y="42.60" font-size="12.00" font-weight="normal" textLength="22.99" lengthAdjust="spacingAndGlyphs" ><tspan fill="#131722" stroke="#131722" stroke-width="0.2">(US$</tspan></text>
<text x="115.62" y="42.60" font-size="12.00" font-weight="normal" textLength="3.33" lengthAdjust="spacingAndGlyphs" ><tspan fill="#131722" stroke="#131722" stroke-width="0.2">/</tspan></text>
<text x="122.85" y="42.60" font-size="12.00" font-weight="normal" textLength="18.82" lengthAdjust="spacingAndGlyphs" ><tspan fill="#131722" stroke="#131722" stroke-width="0.2">OZ)</tspan></text>
<text x="145.87" y="42.60" font-size="12.00" font-weight="normal" textLength="4.00" lengthAdjust="spacingAndGlyphs" ><tspan fill="#131722" stroke="#131722" stroke-width="0.2">·</tspan></text>
<text x="153.97" y="42.60" font-size="12.00" font-weight="normal" textLength="14.46" lengthAdjust="spacingAndGlyphs" ><tspan fill="#131722" stroke="#131722" stroke-width="0.2">1M</tspan></text>
<text x="171.42" y="42.60" font-size="12.00" font-weight="normal" textLength="4.00" lengthAdjust="spacingAndGlyphs" ><tspan fill="#131722" stroke="#131722" stroke-width="0.2">·</tspan></text>
<text x="179.60" y="42.60" font-size="12.00" font-weight="normal" textLength="20.41" lengthAdjust="spacingAndGlyphs" ><tspan fill="#131722" stroke="#131722" stroke-width="0.2">TVC</tspan></text>
<text x="206.42" y="42.60" font-size="12.00" font-weight="normal" textLength="60.07" lengthAdjust="spacingAndGlyphs" ><tspan fill="#131722" stroke="#131722" stroke-width="0.2">O</tspan><tspan fill="#089981" stroke="#089981" stroke-width="0.2">4,895.118</tspan></text>
<text x="273.08" y="42.60" font-size="12.00" font-weight="normal" textLength="59.38" lengthAdjust="spacingAndGlyphs" ><tspan fill="#131722" stroke="#131722" stroke-width="0.2">H</tspan><tspan fill="#089981" stroke="#089981" stroke-width="0.2">5,091.950</tspan></text>
<text x="340.29" y="42.60" font-size="12.00" font-weight="normal" textLength="57.11" lengthAdjust="spacingAndGlyphs" ><tspan fill="#131722" stroke="#131722" stroke-width="0.2">L</tspan><tspan fill="#089981" stroke="#089981" stroke-width="0.2">4,402.400</tspan></text>
<text x="404.73" y="42.60" font-size="12.00" font-weight="normal" textLength="59.13" lengthAdjust="spacingAndGlyphs" ><tspan fill="#131722" stroke="#131722" stroke-width="0.2">C</tspan><tspan fill="#089981" stroke="#089981" stroke-width="0.2">5,058.270</tspan></text>
<text x="471.04" y="42.60" font-size="12.00" font-weight="normal" textLength="47.10" lengthAdjust="spacingAndGlyphs" ><tspan fill="#089981" stroke="#089981" stroke-width="0.2">+163.152</tspan></text>
<text x="521.35" y="42.60" font-size="12.00" font-weight="normal" textLength="44.46" lengthAdjust="spacingAndGlyphs" ><tspan fill="#089981" stroke="#089981" stroke-width="0.2">(+3.33%)</tspan></text>
<text x="13.53" y="59.50" font-size="12.00" font-weight="normal" textLength="20.44" lengthAdjust="spacingAndGlyphs" ><tspan fill="#131722" stroke="#131722" stroke-width="0.2">SMA</tspan></text>
<text x="37.97" y="59.50" font-size="12.00" font-weight="normal" textLength="20.94" lengthAdjust="spacingAndGlyphs" ><tspan fill="#131722" stroke="#131722" stroke-width="0.2">(20,</tspan></text>
<text x="62.23" y="59.50" font-size="12.00" font-weight="normal" textLength="31.26" lengthAdjust="spacingAndGlyphs" ><tspan fill="#131722" stroke="#131722" stroke-width="0.2">close)</tspan></text>
<text x="100.53" y="59.50" font-size="12.00" font-weight="normal" textLength="51.93" lengthAdjust="spacingAndGlyphs" ><tspan fill="#5177e0" stroke="#5177e0" stroke-width="0.2">3,367.407</tspan></text>
<text x="159.01" y="59.50" font-size="12.00" font-weight="normal" textLength="52.15" lengthAdjust="spacingAndGlyphs" ><tspan fill="#f09a55" stroke="#f09a55" stroke-width="0.2">2,130.669</tspan></text>
<text x="875.22" y="41.65" font-size="12.57" font-weight="normal" textLength="52.03" lengthAdjust="spacingAndGlyphs" ><tspan fill="#262a33" stroke="#262a33" stroke-width="0.25">6,000.000</tspan></text>
<text x="875.33" y="78.47" font-size="12.57" font-weight="normal" textLength="52.03" lengthAdjust="spacingAndGlyphs" ><tspan fill="#262a33" stroke="#262a33" stroke-width="0.25">5,600.000</tspan></text>
<text x="875.33" y="115.29" font-size="12.57" font-weight="normal" textLength="52.03" lengthAdjust="spacingAndGlyphs" ><tspan fill="#262a33" stroke="#262a33" stroke-width="0.25">5,200.000</tspan></text>
<text x="875.57" y="152.11" font-size="12.57" font-weight="normal" textLength="52.03" lengthAdjust="spacingAndGlyphs" ><tspan fill="#262a33" stroke="#262a33" stroke-width="0.25">4,800.000</tspan></text>
<text x="875.57" y="188.93" font-size="12.57" font-weight="normal" textLength="52.03" lengthAdjust="spacingAndGlyphs" ><tspan fill="#262a33" stroke="#262a33" stroke-width="0.25">4,400.000</tspan></text>
<text x="875.57" y="225.75" font-size="12.57" font-weight="normal" textLength="52.03" lengthAdjust="spacingAndGlyphs" ><tspan fill="#262a33" stroke="#262a33" stroke-width="0.25">4,000.000</tspan></text>
<text x="875.33" y="262.57" font-size="12.57" font-weight="normal" textLength="52.03" lengthAdjust="spacingAndGlyphs" ><tspan fill="#262a33" stroke="#262a33" stroke-width="0.25">3,600.000</tspan></text>
<text x="875.33" y="299.39" font-size="12.57" font-weight="normal" textLength="52.03" lengthAdjust="spacingAndGlyphs" ><tspan fill="#262a33" stroke="#262a33" stroke-width="0.25">3,200.000</tspan></text>
<text x="875.22" y="336.21" font-size="12.57" font-weight="normal" textLength="52.03" lengthAdjust="spacingAndGlyphs" ><tspan fill="#262a33" stroke="#262a33" stroke-width="0.25">2,800.000</tspan></text>
<text x="875.22" y="373.03" font-size="12.57" font-weight="normal" textLength="52.03" lengthAdjust="spacingAndGlyphs" ><tspan fill="#262a33" stroke="#262a33" stroke-width="0.25">2,400.000</tspan></text>
<text x="875.22" y="409.85" font-size="12.57" font-weight="normal" textLength="52.03" lengthAdjust="spacingAndGlyphs" ><tspan fill="#262a33" stroke="#262a33" stroke-width="0.25">2,000.000</tspan></text>
<text x="875.69" y="446.67" font-size="12.57" font-weight="normal" textLength="50.85" lengthAdjust="spacingAndGlyphs" ><tspan fill="#262a33" stroke="#262a33" stroke-width="0.25">1,600.000</tspan></text>
<text x="875.69" y="483.49" font-size="12.57" font-weight="normal" textLength="50.85" lengthAdjust="spacingAndGlyphs" ><tspan fill="#262a33" stroke="#262a33" stroke-width="0.25">1,200.000</tspan></text>
<text x="875.33" y="520.31" font-size="12.57" font-weight="normal" textLength="42.28" lengthAdjust="spacingAndGlyphs" ><tspan fill="#262a33" stroke="#262a33" stroke-width="0.25">800.000</tspan></text>
<text x="29.79" y="553.50" font-size="12.86" font-weight="normal" textLength="27.23" lengthAdjust="spacingAndGlyphs" ><tspan fill="#1e222d" stroke="#1e222d" stroke-width="0.55">2015</tspan></text>
<text x="97.78" y="553.50" font-size="12.86" font-weight="normal" textLength="27.36" lengthAdjust="spacingAndGlyphs" ><tspan fill="#1e222d" stroke="#1e222d" stroke-width="0.55">2016</tspan></text>
<text x="166.78" y="553.50" font-size="12.86" font-weight="normal" textLength="27.36" lengthAdjust="spacingAndGlyphs" ><tspan fill="#1e222d" stroke="#1e222d" stroke-width="0.55">2017</tspan></text>
<text x="235.78" y="553.50" font-size="12.86" font-weight="normal" textLength="27.36" lengthAdjust="spacingAndGlyphs" ><tspan fill="#1e222d" stroke="#1e222d" stroke-width="0.55">2018</tspan></text>
<text x="304.78" y="553.50" font-size="12.86" font-weight="normal" textLength="27.36" lengthAdjust="spacingAndGlyphs" ><tspan fill="#1e222d" stroke="#1e222d" stroke-width="0.55">2019</tspan></text>
<text x="373.79" y="553.50" font-size="12.86" font-weight="normal" textLength="27.23" lengthAdjust="spacingAndGlyphs" ><tspan fill="#1e222d" stroke="#1e222d" stroke-width="0.55">2020</tspan></text>
<text x="442.78" y="553.50" font-size="12.86" font-weight="normal" textLength="27.36" lengthAdjust="spacingAndGlyphs" ><tspan fill="#1e222d" stroke="#1e222d" stroke-width="0.55">2021</tspan></text>
<text x="511.78" y="553.50" font-size="12.86" font-weight="normal" textLength="27.36" lengthAdjust="spacingAndGlyphs" ><tspan fill="#1e222d" stroke="#1e222d" stroke-width="0.55">2022</tspan></text>
<text x="580.78" y="553.50" font-size="12.86" font-weight="normal" textLength="27.36" lengthAdjust="spacingAndGlyphs" ><tspan fill="#1e222d" stroke="#1e222d" stroke-width="0.55">2023</tspan></text>
<text x="649.79" y="553.50" font-size="12.86" font-weight="normal" textLength="27.11" lengthAdjust="spacingAndGlyphs" ><tspan fill="#1e222d" stroke="#1e222d" stroke-width="0.55">2024</tspan></text>
<text x="718.79" y="553.50" font-size="12.86" font-weight="normal" textLength="27.23" lengthAdjust="spacingAndGlyphs" ><tspan fill="#1e222d" stroke="#1e222d" stroke-width="0.55">2025</tspan></text>
<text x="787.78" y="553.50" font-size="12.86" font-weight="normal" textLength="27.36" lengthAdjust="spacingAndGlyphs" ><tspan fill="#1e222d" stroke="#1e222d" stroke-width="0.55">2026</tspan></text>
<rect x="868" y="117.5" width="64" height="29.5" fill="#089981"/>
<text x="875.33" y="128.60" font-size="12.00" font-weight="normal" textLength="52.42" lengthAdjust="spacingAndGlyphs" ><tspan fill="#fff" stroke="#fff" stroke-width="0.45">5,058.270</tspan></text>
<text x="875.07" y="142.50" font-size="11.43" font-weight="normal" textLength="41.98" lengthAdjust="spacingAndGlyphs" ><tspan fill="#fff" stroke="#fff" stroke-width="0.45">16d 18h</tspan></text>
<rect x="868" y="273" width="63.5" height="15.8" fill="#2962ff"/>
<text x="875.23" y="284.60" font-size="11.71" font-weight="normal" textLength="51.73" lengthAdjust="spacingAndGlyphs" ><tspan fill="#fff" stroke="#fff" stroke-width="0.45">3,367.407</tspan></text>
<rect x="868" y="386.2" width="64" height="16.5" fill="#f57f1f"/>
<text x="875.12" y="398.00" font-size="11.71" font-weight="normal" textLength="51.85" lengthAdjust="spacingAndGlyphs" ><tspan fill="#fff" stroke="#fff" stroke-width="0.45">2,130.669</tspan></text>
</svg>
</body></html>
